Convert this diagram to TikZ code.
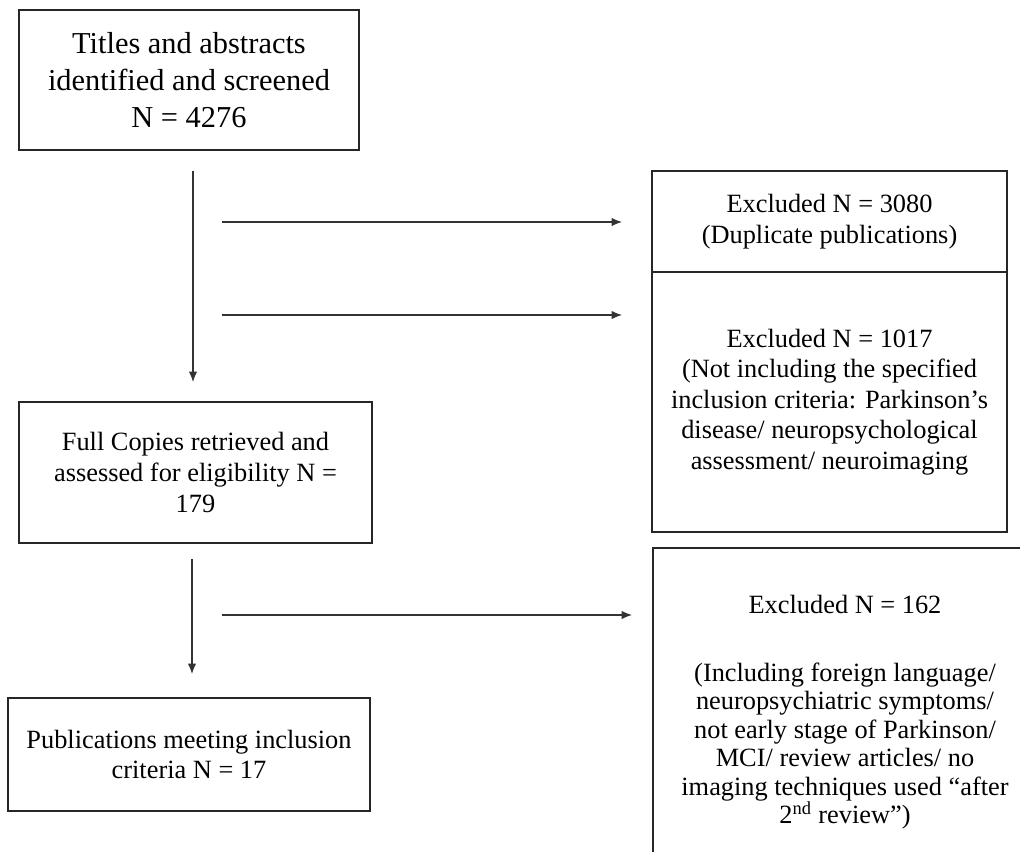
\documentclass[tikz,border=0pt]{standalone}
\usepackage{fontspec}
\setmainfont{Liberation Serif}
\usepackage{tikz}
\usetikzlibrary{arrows.meta,positioning,calc}

\begin{document}
\begin{tikzpicture}[
    >={Latex[length=6pt,width=4.8pt]},
    every node/.style={font=\fontsize{15}{17.4}\selectfont},
    stage/.style ={rectangle,draw=black!85,line width=1pt,
                   inner sep=0pt,align=center},
    excl/.style  ={rectangle,draw=black!85,line width=1pt,
                   inner sep=0pt,align=center,minimum width=7.1cm},
    arr/.style={->,line width=0.8pt,black!80}
  ]
  \useasboundingbox (0,0) rectangle (20.4,-17.02);
  \clip (0,0) rectangle (20.4,-17.02);
  %% Left column: the screening stages
  \node[stage,minimum width=6.8cm,minimum height=2.8cm,
        font=\fontsize{17.3}{20.9}\selectfont] (titles) at (3.78,-1.6)
        {Titles and abstracts\\identified and screened\\N = 4276};
  \node[stage,minimum width=7.06cm,minimum height=2.82cm] (full) at (3.91,-9.45)
        {Full Copies retrieved and\\assessed for eligibility N =\\179};
  \node[stage,minimum width=7.24cm,minimum height=2.26cm] (incl) at (3.78,-15.09)
        {Publications meeting inclusion\\criteria N = 17};
  %% Right column: the exclusions
  \node[excl,minimum height=2.02cm] (exdup) at (16.59,-4.43)
        {Excluded N = 3080\\(Duplicate publications)};
  \node[excl,minimum height=5.2cm] (excrit) at (16.59,-8.04)
        {Excluded N = 1017\\(Not including the specified\\inclusion criteria: Parkinson’s\\disease/ neuropsychological\\assessment/ neuroimaging};
  \node[excl,minimum width=7.68cm,minimum height=6.56cm,
        font=\fontsize{15}{16.2}\selectfont] (exrev) at (16.9,-14.24)
        {Excluded N = 162\\[0.79cm](Including foreign language/\\neuropsychiatric symptoms/\\not early stage of Parkinson/\\MCI/ review articles/ no\\imaging techniques used “after\\2\textsuperscript{nd} review”)};
  %% Connectors
  \coordinate (v1) at (3.86,0);
  \coordinate (v2) at (3.84,0);
  \coordinate (h1) at (4.44,-4.44);
  \coordinate (h2) at (4.44,-6.3);
  \coordinate (h3) at (4.44,-12.3);
  \draw[arr,shorten <=0.4cm,shorten >=0.38cm] (v1 |- titles.south) -- (v1 |- full.north);
  \draw[arr,shorten <=0.3cm,shorten >=0.46cm] (v2 |- full.south) -- (v2 |- incl.north);
  \draw[arr,shorten >=0.58cm] (h1) -- (h1 -| exdup.west);
  \draw[arr,shorten >=0.58cm] (h2) -- (h2 -| excrit.west);
  \draw[arr,shorten >=0.4cm] (h3) -- (h3 -| exrev.west);
\end{tikzpicture}
\end{document}
